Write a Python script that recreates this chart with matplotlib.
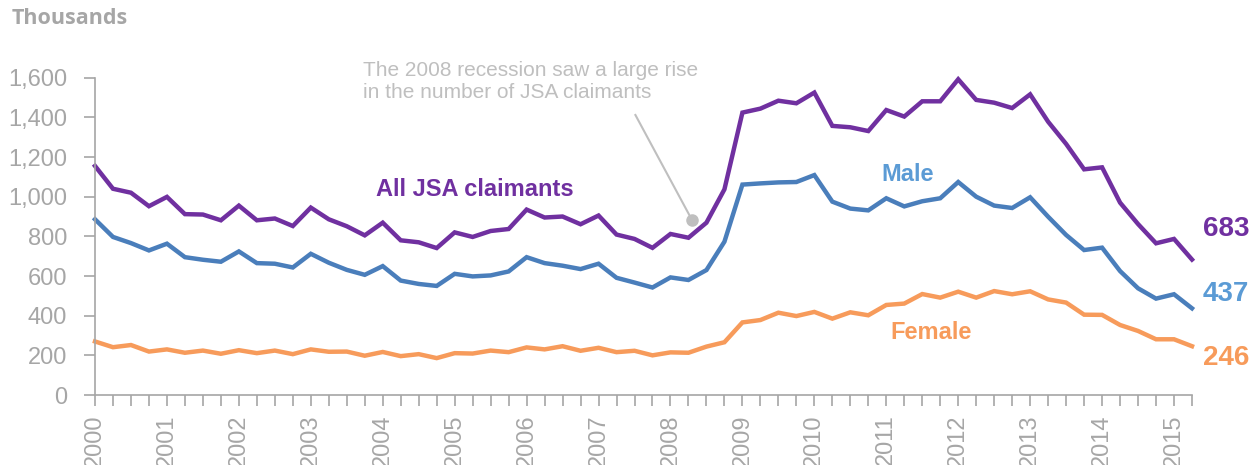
import matplotlib
matplotlib.use("Agg")
import matplotlib.pyplot as plt
import numpy as np

# Quarterly data, 2000 Q1 .. 2015 Q2 (thousands)
years = list(range(2000, 2016))
all_claimants = [1155, 1040, 1020, 952, 999, 912, 910, 881, 955, 881, 890, 852, 945, 886, 851, 805,
                 869, 780, 770, 741, 820, 797, 827, 837, 935, 895, 900, 861, 905, 809, 787, 742,
                 812, 793, 869, 1037, 1424, 1444, 1484, 1471, 1525, 1357, 1350, 1331, 1437, 1404,
                 1481, 1481, 1592, 1488, 1474, 1447, 1516, 1378, 1266, 1138, 1148, 970, 862, 765,
                 787, 683]
male = [886, 797, 766, 729, 763, 695, 682, 672, 724, 665, 662, 643, 712, 667, 631, 606,
        650, 577, 560, 550, 611, 598, 603, 623, 695, 665, 652, 635, 662, 591, 567, 542,
        593, 580, 630, 773, 1061, 1067, 1072, 1074, 1109, 975, 940, 931, 992, 951,
        977, 992, 1074, 1000, 955, 943, 997, 899, 807, 731, 743, 625, 538, 486,
        508, 437]
female = [270, 241, 252, 219, 230, 213, 224, 208, 226, 211, 224, 206, 230, 218, 219, 198,
          217, 196, 206, 186, 211, 209, 224, 216, 240, 230, 246, 223, 238, 216, 223, 200,
          215, 213, 244, 266, 366, 378, 415, 398, 419, 385, 417, 402, 454, 461,
          509, 491, 521, 491, 524, 508, 523, 482, 466, 405, 404, 353, 323, 281,
          281, 246]
yticks = [0, 200, 400, 600, 800, 1000, 1200, 1400, 1600]

PURPLE = "#7030A0"
BLUE = "#4A7EBB"
BLUE_LBL = "#5B9BD5"
ORANGE = "#F79B5B"
GREY = "#A6A6A6"
LIGHTGREY = "#BFBFBF"

plt.rcParams['font.family'] = ['Liberation Sans', 'DejaVu Sans']

fig = plt.figure(figsize=(12.56, 4.65), dpi=100)
ax = fig.add_axes([95/1256, 1-395/465, (1192-95)/1256, (395-77.7)/465])

x = np.arange(len(all_claimants))
ax.plot(x, all_claimants, color=PURPLE, lw=3.2, solid_joinstyle='miter', clip_on=False)
ax.plot(x, male, color=BLUE, lw=3.2, solid_joinstyle='miter', clip_on=False)
ax.plot(x, female, color=ORANGE, lw=3.2, solid_joinstyle='miter', clip_on=False)

ax.set_xlim(0, len(x) - 1)
ax.set_ylim(0, 1600)

for s in ['top', 'right']:
    ax.spines[s].set_visible(False)
for s in ['left', 'bottom']:
    ax.spines[s].set_color(GREY)
    ax.spines[s].set_linewidth(1.2)

ax.set_yticks(yticks)
ax.set_yticklabels([f"{v:,}" for v in yticks])
ax.set_xticks(x, minor=False)
ax.set_xticklabels([str(years[i // 4]) if i % 4 == 0 else "" for i in x], rotation=90)
ax.tick_params(axis='y', length=8, width=1.2, color=GREY, labelcolor=GREY, labelsize=17, pad=12)
ax.tick_params(axis='x', length=8, width=1.2, color=GREY, labelcolor=GREY, labelsize=17, pad=6)

# Series labels
ax.text(15.6, 1034, "All JSA claimants", color=PURPLE, fontsize=17, fontweight='bold',
        ha='left', va='center')
ax.text(45.2, 1110, "Male", color=BLUE_LBL, fontsize=17, fontweight='bold',
        ha='center', va='center')
ax.text(46.5, 313, "Female", color=ORANGE, fontsize=17, fontweight='bold',
        ha='center', va='center')
ax.text(61.6, 835, f"{all_claimants[-1]}", color=PURPLE, fontsize=20, fontweight='bold',
        ha='left', va='center', clip_on=False)
ax.text(61.6, 507, f"{male[-1]}", color=BLUE_LBL, fontsize=20, fontweight='bold',
        ha='left', va='center', clip_on=False)
ax.text(61.6, 189, f"{female[-1]}", color=ORANGE, fontsize=20, fontweight='bold',
        ha='left', va='center', clip_on=False)

# Annotation
ax.text(14.9, 1682, "The 2008 recession saw a large rise\nin the number of JSA claimants",
        color=LIGHTGREY, fontsize=15, ha='left', va='top', linespacing=1.2, clip_on=False)
ax.plot([30.05, 33.2], [1412, 882], color=LIGHTGREY, lw=1.5, clip_on=False)
ax.plot([33.2], [882], 'o', color=LIGHTGREY, ms=8, clip_on=False)

fig.text(12/1256, 1-8/465, "Thousands", color=GREY, fontsize=15.5, fontweight='bold',
         family=['Open Sans', 'DejaVu Sans'], ha='left', va='top')

fig.savefig("out.png", dpi=100)
